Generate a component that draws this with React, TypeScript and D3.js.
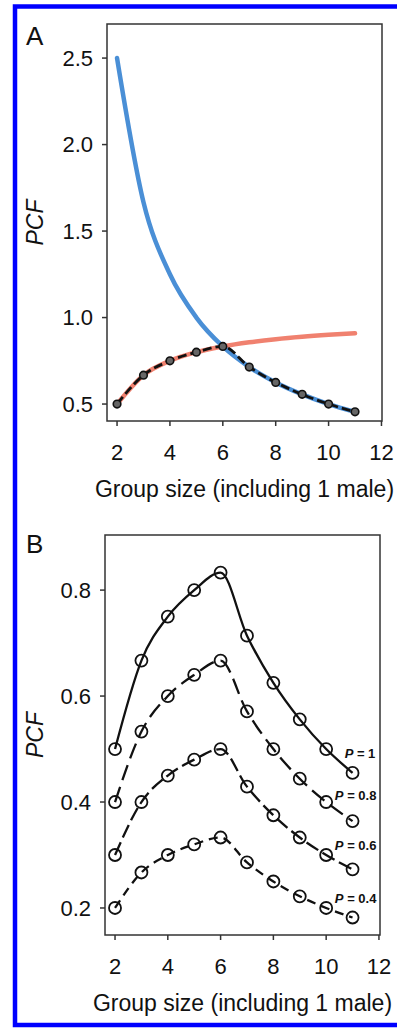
import * as d3 from 'd3';

// group size (including 1 male)
const groupSize = [2, 3, 4, 5, 6, 7, 8, 9, 10, 11];

// panel A curves
const bluePcf = [2.5, 1.667, 1.25, 1.0, 0.833, 0.714, 0.625, 0.556, 0.5, 0.455];
const redPcf = [0.5, 0.667, 0.75, 0.8, 0.833, 0.857, 0.875, 0.889, 0.9, 0.909];
const blackPcf = [0.5, 0.667, 0.75, 0.8, 0.833, 0.714, 0.625, 0.556, 0.5, 0.455];

// panel B series
const p10 = [0.5, 0.667, 0.75, 0.8, 0.833, 0.714, 0.625, 0.556, 0.5, 0.455];
const p08 = [0.4, 0.533, 0.6, 0.64, 0.667, 0.571, 0.5, 0.444, 0.4, 0.364];
const p06 = [0.3, 0.4, 0.45, 0.48, 0.5, 0.429, 0.375, 0.333, 0.3, 0.273];
const p04 = [0.2, 0.267, 0.3, 0.32, 0.333, 0.286, 0.25, 0.222, 0.2, 0.182];
const pLabels = ['1', '0.8', '0.6', '0.4'];

const xTicks = [2, 4, 6, 8, 10, 12];
const yTicksA = [0.5, 1.0, 1.5, 2.0, 2.5];
const yTicksB = [0.2, 0.4, 0.6, 0.8];

const font = "'Liberation Sans', Arial, sans-serif";
const axisColor = '#333';
const blue = '#4a8fd6';
const red = '#f0816f';

type Pt = [number, number];
const pts = (ys: number[]): Pt[] => groupSize.map((g, i) => [g, ys[i]]);

export default function App() {
  // panel A
  const xA = d3.scaleLinear().domain([1.62, 12.02]).range([107, 382]);
  const yA = d3.scaleLinear().domain([0.402, 2.697]).range([421, 24]);
  const lineA = d3
    .line<Pt>()
    .x((d) => xA(d[0]))
    .y((d) => yA(d[1]))
    .curve(d3.curveMonotoneX);

  // panel B
  const xB = d3.scaleLinear().domain([1.62, 12.04]).range([105, 380]);
  const yB = d3.scaleLinear().domain([0.149, 0.904]).range([935, 535]);
  const lineB = d3
    .line<Pt>()
    .x((d) => xB(d[0]))
    .y((d) => yB(d[1]))
    .curve(d3.curveMonotoneX);

  const seriesB = [
    { ys: p10, dash: 'none', label: pLabels[0], lx: 10.7, ly: 0.483 },
    { ys: p08, dash: '16,7', label: pLabels[1], lx: 10.33, ly: 0.404 },
    { ys: p06, dash: '14,5', label: pLabels[2], lx: 10.33, ly: 0.309 },
    { ys: p04, dash: '9,6', label: pLabels[3], lx: 10.33, ly: 0.209 },
  ];

  const frame = (
    x: d3.ScaleLinear<number, number>,
    y: d3.ScaleLinear<number, number>,
    yTicks: number[],
    fmt: (v: number) => string
  ) => {
    const [l, r] = x.range();
    const [b, t] = y.range();
    return (
      <g fontFamily={font} fill="#111">
        <rect x={l} y={t} width={r - l} height={b - t} fill="none" stroke={axisColor} strokeWidth={1.5} />
        {xTicks.map((v) => (
          <g key={'x' + v}>
            <line x1={x(v)} x2={x(v)} y1={b} y2={b + 5} stroke={axisColor} strokeWidth={1.5} />
            <text x={x(v)} y={b + 39} textAnchor="middle" fontSize={22}>
              {v}
            </text>
          </g>
        ))}
        {yTicks.map((v) => (
          <g key={'y' + v}>
            <line x1={l - 5} x2={l} y1={y(v)} y2={y(v)} stroke={axisColor} strokeWidth={1.5} />
            <text x={l - 14} y={y(v) + 7.8} textAnchor="end" fontSize={22}>
              {fmt(v)}
            </text>
          </g>
        ))}
        <text x={(l + r) / 2} y={b + 76} textAnchor="middle" fontSize={23}>
          Group size (including 1 male)
        </text>
        <text
          transform={`translate(43,${(t + b) / 2}) rotate(-90)`}
          textAnchor="middle"
          fontSize={23}
          fontStyle="italic"
        >
          PCF
        </text>
      </g>
    );
  };

  return (
    <svg
      width={397}
      height={1028}
      style={{ position: 'absolute', left: 0, top: 0, background: '#fff' }}
    >
      <rect x={0} y={0} width={397} height={1028} fill="#fff" />
      <rect x={15} y={6.5} width={400} height={1018.5} fill="none" stroke="#0000ff" strokeWidth={4.5} />

      {/* panel A */}
      <text x={26} y={45} fontFamily={font} fontSize={26} fill="#111">
        A
      </text>
      {frame(xA, yA, yTicksA, d3.format('.1f'))}
      <path d={lineA(pts(redPcf))!} fill="none" stroke={red} strokeWidth={4.5} strokeLinecap="round" />
      <path d={lineA(pts(bluePcf))!} fill="none" stroke={blue} strokeWidth={4.5} strokeLinecap="round" />
      <path d={lineA(pts(blackPcf))!} fill="none" stroke="#111" strokeWidth={2.8} strokeDasharray="9,4" />
      {pts(blackPcf).map((d, i) => (
        <circle key={i} cx={xA(d[0])} cy={yA(d[1])} r={3.8} fill="#666" stroke="#111" strokeWidth={1.6} />
      ))}

      {/* panel B */}
      <text x={26} y={553} fontFamily={font} fontSize={26} fill="#111">
        B
      </text>
      {frame(xB, yB, yTicksB, d3.format('.1f'))}
      {seriesB.map((s, k) => (
        <g key={k}>
          {pts(s.ys).map((d, i) => (
            <circle key={i} cx={xB(d[0])} cy={yB(d[1])} r={6} fill="none" stroke="#111" strokeWidth={1.8} />
          ))}
          <path
            d={lineB(pts(s.ys))!}
            fill="none"
            stroke="#111"
            strokeWidth={2.3}
            strokeDasharray={s.dash}
          />
          <text x={xB(s.lx)} y={yB(s.ly)} fontFamily={font} fontSize={13} fontWeight="bold" fill="#111">
            <tspan fontStyle="italic">P</tspan>
            {' = ' + s.label}
          </text>
        </g>
      ))}
    </svg>
  );
}
